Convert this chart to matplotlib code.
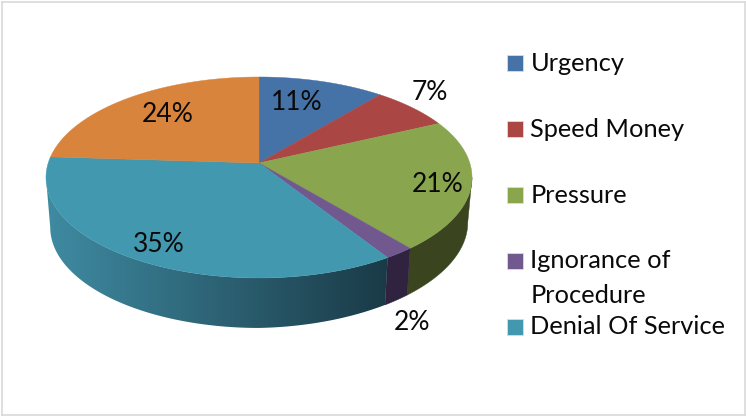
import numpy as np
import matplotlib
matplotlib.use("Agg")
import matplotlib.pyplot as plt
from matplotlib.patches import Polygon, Rectangle
from matplotlib.colors import LinearSegmentedColormap

categories = ["Urgency", "Speed Money", "Pressure", "Ignorance of\nProcedure", "Denial Of Service", "Unlabelled"]
values = [11, 7, 21, 2, 35, 24]
value_labels = ["11%", "7%", "21%", "2%", "35%", "24%"]
colors = ["#4572A7", "#AA4643", "#89A54E", "#71588F", "#4198AF", "#D9843D"]
side_left = ["#4572A7", "#AA4643", "#3A4520", "#2F2340", "#3F8BA2", "#D9843D"]
side_right = ["#4572A7", "#AA4643", "#3A4520", "#2F2340", "#1A3A47", "#D9843D"]
label_xy = [(297, 103), (430, 92), (438, 185), (412, 323), (159, 244), (168, 114)]
legend_baselines = [[71], [137], [203], [268, 303], [334]]
legend_square_tops = [55, 121, 187, 253, 319]

W, H = 746, 418
CX, CY = 259, 163
A, B, K = 210.8, 98.4, 0.144
DEPTH, BOTTOM_X = 50, 0.98


def top(theta):
    u, v = np.sin(theta), np.cos(theta)
    w = 1 + K * v
    return CX + A * u / w, CY - B * v / w


def bottom(theta):
    x, y = top(theta)
    return CX + (x - CX) * BOTTOM_X, y + DEPTH - 5 * np.maximum(np.sin(theta), 0)


fig = plt.figure(figsize=(W / 100, H / 100), dpi=100)
ax = fig.add_axes([0, 0, 1, 1])
plt.rcParams["font.family"] = ["Lato", "DejaVu Sans"]
ax.axis("off")

# frame
for xs, ys in [((2, 745), (2, 2)), ((2, 2), (2, 415)), ((2, 745), (415, 415)), ((745, 745), (2, 415))]:
    ax.plot(xs, ys, color="#D9D9D9", lw=1.2, zorder=1)

edges = np.cumsum([0] + values) / sum(values) * 2 * np.pi
wall_from = np.arccos(-K)
wall_to = 2 * np.pi - wall_from

# side wall between the two silhouette points of the rim
for i in range(len(values)):
    lo = max(edges[i], wall_from)
    hi = min(edges[i + 1], wall_to)
    if lo >= hi:
        continue
    th = np.linspace(lo, hi, 200)
    xt, yt = top(th)
    xb, yb = bottom(th)
    pts = list(zip(xt, yt)) + list(zip(xb[::-1], yb[::-1]))
    if side_left[i] == side_right[i]:
        ax.add_patch(Polygon(pts, closed=True, facecolor=side_left[i], edgecolor=side_left[i], lw=0.3, zorder=2))
    else:
        cmap = LinearSegmentedColormap.from_list("wall", [side_left[i], side_right[i]])
        clip = Polygon(pts, closed=True, transform=ax.transData, facecolor="none", edgecolor="none")
        ax.add_patch(clip)
        im = ax.imshow(np.linspace(0, 1, 256)[None, :], cmap=cmap, aspect="auto",
                       extent=(float(xt.min()), float(xt.max()), H, 0), zorder=2)
        im.set_clip_path(clip)
ax.set_xlim(0, W)
ax.set_ylim(H, 0)

# top wedges
for i in range(len(values)):
    th = np.linspace(edges[i], edges[i + 1], 120)
    xs, ys = top(th)
    pts = [(CX, CY)] + list(zip(xs, ys))
    ax.add_patch(Polygon(pts, closed=True, facecolor=colors[i], edgecolor=colors[i], lw=0.3, zorder=3))

for (x, y), s in zip(label_xy, value_labels):
    ax.text(x, y, s, fontsize=19, color="#0A0A0A", ha="center", va="center", zorder=5)

# legend (five visible entries)
for i in range(5):
    ax.add_patch(Rectangle((507, legend_square_tops[i]), 16, 16, facecolor=colors[i],
                           edgecolor="#D8DDE5", lw=0.6, zorder=4))
    for line, base in zip(categories[i].split("\n"), legend_baselines[i]):
        ax.text(530.5, base, line, fontsize=18.3, color="#0A0A0A", ha="left", va="baseline", zorder=5)

fig.savefig("out.png", dpi=100)
